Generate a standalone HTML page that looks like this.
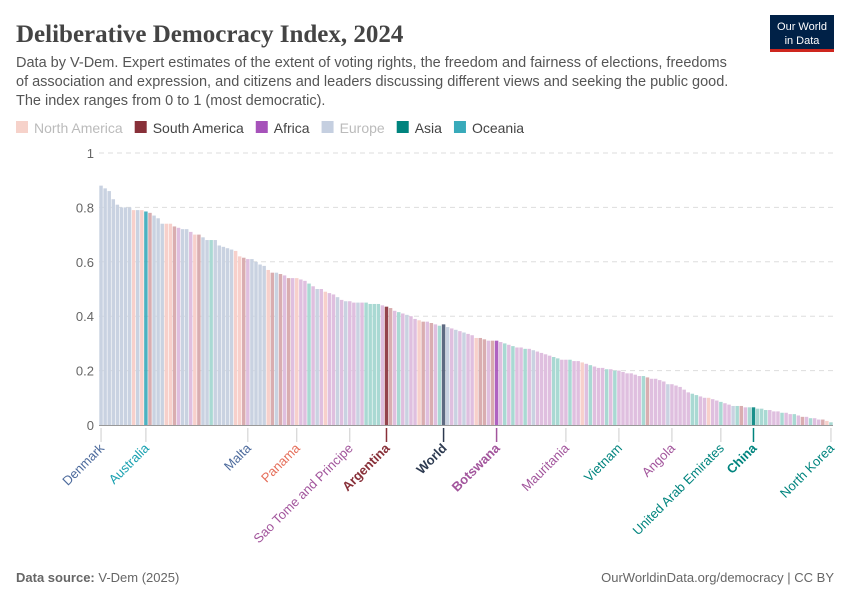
<!DOCTYPE html>
<html><head><meta charset="utf-8"><style>
body{margin:0;background:#fff;font-family:"Liberation Sans",sans-serif}
svg text{font-family:"Liberation Sans",sans-serif}
</style></head><body>
<svg id="c" width="850" height="600" xmlns="http://www.w3.org/2000/svg">
<text x="16" y="42" font-size="25" font-weight="bold" fill="#444" style="font-family:'Liberation Serif',serif">Deliberative Democracy Index, 2024</text>
<g font-size="14.5" fill="#555">
<text x="16" y="67">Data by V-Dem. Expert estimates of the extent of voting rights, the freedom and fairness of elections, freedoms</text>
<text x="16" y="86">of association and expression, and citizens and leaders discussing different views and seeking the public good.</text>
<text x="16" y="105">The index ranges from 0 to 1 (most democratic).</text>
</g>
<g>
<rect x="770" y="15" width="64" height="36" fill="#002147"/><rect x="770" y="49" width="64" height="3" fill="#ce261e"/>
<text x="802" y="30" font-size="11" fill="#fff" text-anchor="middle">Our World</text>
<text x="802" y="44" font-size="11" fill="#fff" text-anchor="middle">in Data</text>
</g>
<g id="legend" font-size="14"></g>
<g id="grid"></g><g id="bars"></g><g id="labels"></g>
<text x="16" y="582" font-size="13" fill="#666"><tspan font-weight="bold">Data source:</tspan> V-Dem (2025)</text>
<text x="834" y="582" font-size="13" fill="#666" text-anchor="end">OurWorldinData.org/democracy | CC BY</text>
</svg>
<script>
const values=[.88,.87,.86,.83,.81,.80,.80,.80,.79,.79,
.79,.785,.78,.77,.76,.74,.74,.74,.73,.725,
.72,.72,.71,.70,.70,.69,.68,.68,.68,.66,
.655,.65,.645,.64,.62,.615,.61,.61,.60,.59,
.585,.57,.56,.56,.555,.55,.54,.54,.54,.535,
.53,.52,.51,.50,.50,.49,.485,.48,.47,.46,
.455,.455,.45,.45,.45,.45,.445,.445,.445,.44,
.435,.43,.42,.415,.41,.405,.40,.39,.385,.38,
.38,.375,.37,.365,.37,.36,.355,.35,.345,.34,
.335,.33,.32,.32,.315,.31,.31,.31,.305,.30,
.295,.29,.285,.285,.28,.28,.275,.27,.265,.26,
.255,.25,.245,.24,.24,.24,.235,.235,.23,.225,
.22,.215,.21,.21,.205,.205,.20,.20,.195,.19,
.19,.185,.18,.18,.175,.17,.17,.165,.16,.15,
.15,.145,.14,.13,.12,.115,.11,.105,.10,.10,
.095,.09,.085,.08,.075,.07,.07,.07,.065,.065,
.065,.06,.06,.055,.055,.05,.05,.045,.045,.04,
.04,.035,.03,.03,.025,.025,.02,.02,.015,.01];
const regions=("EEEEEEEENENPSEEENNSAEEANSEEOEEEEENNSAEEEENSESASANA"+
"AOAEANAAEAEAAEAOOOOASSAOAEAANSASAOOEAEAEAANSSASAAO"+
"AOAAOAEAAAAOOAAOAANAOAAAOAOAAAAAAOSAAAAEAAAAAOOAAN"+
"AAOAAEOSAOOOOOAAAOAAOASAOAASNO").split("");
const highlights={11:"P",70:"S",84:"W",97:"A",160:"O"};
const labelNames=["Denmark","Australia","Malta","Panama","Sao Tome and Principe","Argentina","World","Botswana","Mauritania","Vietnam","Angola","United Arab Emirates","China","North Korea"];
const labelIdx=[0,11,36,48,61,70,84,97,114,127,140,152,160,179];
const labelCols=["#4c6a9c","#18a0b0","#4c6a9c","#e56e5a","#a2559c","#883039","#2d3a50","#a2559c","#a2559c","#00847e","#a2559c","#00847e","#00847e","#00847e"];
const labelBold=[0,0,0,0,0,1,1,1,0,0,0,0,1,0];
const yTicks=[0,0.2,0.4,0.6,0.8,1];
const yTickLabels=["0","0.2","0.4","0.6","0.8","1"];
const legendNames=["North America","South America","Africa","Europe","Asia","Oceania"];
const legendCols=["#f6d2ca","#883039","#a652ba","#c5cfe0","#00847e","#38aaba"];

const pale={E:"#c9d2e1",N:"#f7d0cb",S:"#d9adb0",A:"#dfbfdf",O:"#a9d9d3",P:"#acd8de"};
const strong={E:"#4c6a9c",N:"#e56e5a",S:"#883039",A:"#a652ba",O:"#00847e",P:"#38aaba",W:"#4c5a74"};
const X0=99,X1=833,Y0=425,Y1=153;
const bw=(X1-X0)/values.length;
const y=v=>Y0-(Y0-Y1)*v, x=i=>X0+i*bw;
const NS="http://www.w3.org/2000/svg";
function mk(t,a,p){const e=document.createElementNS(NS,t);for(const k in a)e.setAttribute(k,a[k]);p.appendChild(e);return e;}
const G=document.getElementById("grid");
yTicks.forEach((t,i)=>{
 if(t>0){const l=mk("line",{x1:X0,x2:X1,y1:y(t),y2:y(t),stroke:"#ddd","stroke-dasharray":"5,4"},G);
 
 }
 const tx=mk("text",{x:94,y:y(t)+5,"text-anchor":"end","font-size":13,fill:"#666"},G);tx.textContent=yTickLabels[i];
 
 
});
const B=document.getElementById("bars");
values.forEach((v,i)=>{
 const h=highlights[i];const r=regions[i]||"A";
 const fill=h?strong[h]:pale[r];
 const b=mk("rect",{x:x(i)+0.3,y:y(v),width:bw-0.6,height:Y0-y(v),fill:fill,opacity:h?0.9:1},B);
 
 
});
const ax=mk("line",{x1:X0,x2:X1,y1:Y0+0.5,y2:Y0+0.5,stroke:"#999"},B);


const L=document.getElementById("labels");
labelIdx.forEach((idx,k)=>{
 const cx=x(idx)+bw/2;
 const tk=mk("line",{x1:cx,x2:cx,y1:428,y2:442,stroke:labelBold[k]?labelCols[k]:"#ccc","stroke-width":labelBold[k]?1.5:1},L);
 
 
 const t=mk("text",{transform:`translate(${cx+4},${449}) rotate(-45)`,"text-anchor":"end","font-size":13,fill:labelCols[k],"font-weight":labelBold[k]?"bold":"normal"},L);
 t.textContent=labelNames[k];
 
 
});
const LG=document.getElementById("legend");
let lx=16;
legendNames.forEach((n,i)=>{
 const r=mk("rect",{x:lx,y:121,width:12,height:12,fill:legendCols[i]},LG);
 
 
 const t=mk("text",{x:lx+18,y:133,"font-size":14,fill:(i==0||i==3)?"#bbb":"#444"},LG);
 t.textContent=n;
 
 
 lx+=18+t.getComputedTextLength()+12;
});
</script>
</body></html>
